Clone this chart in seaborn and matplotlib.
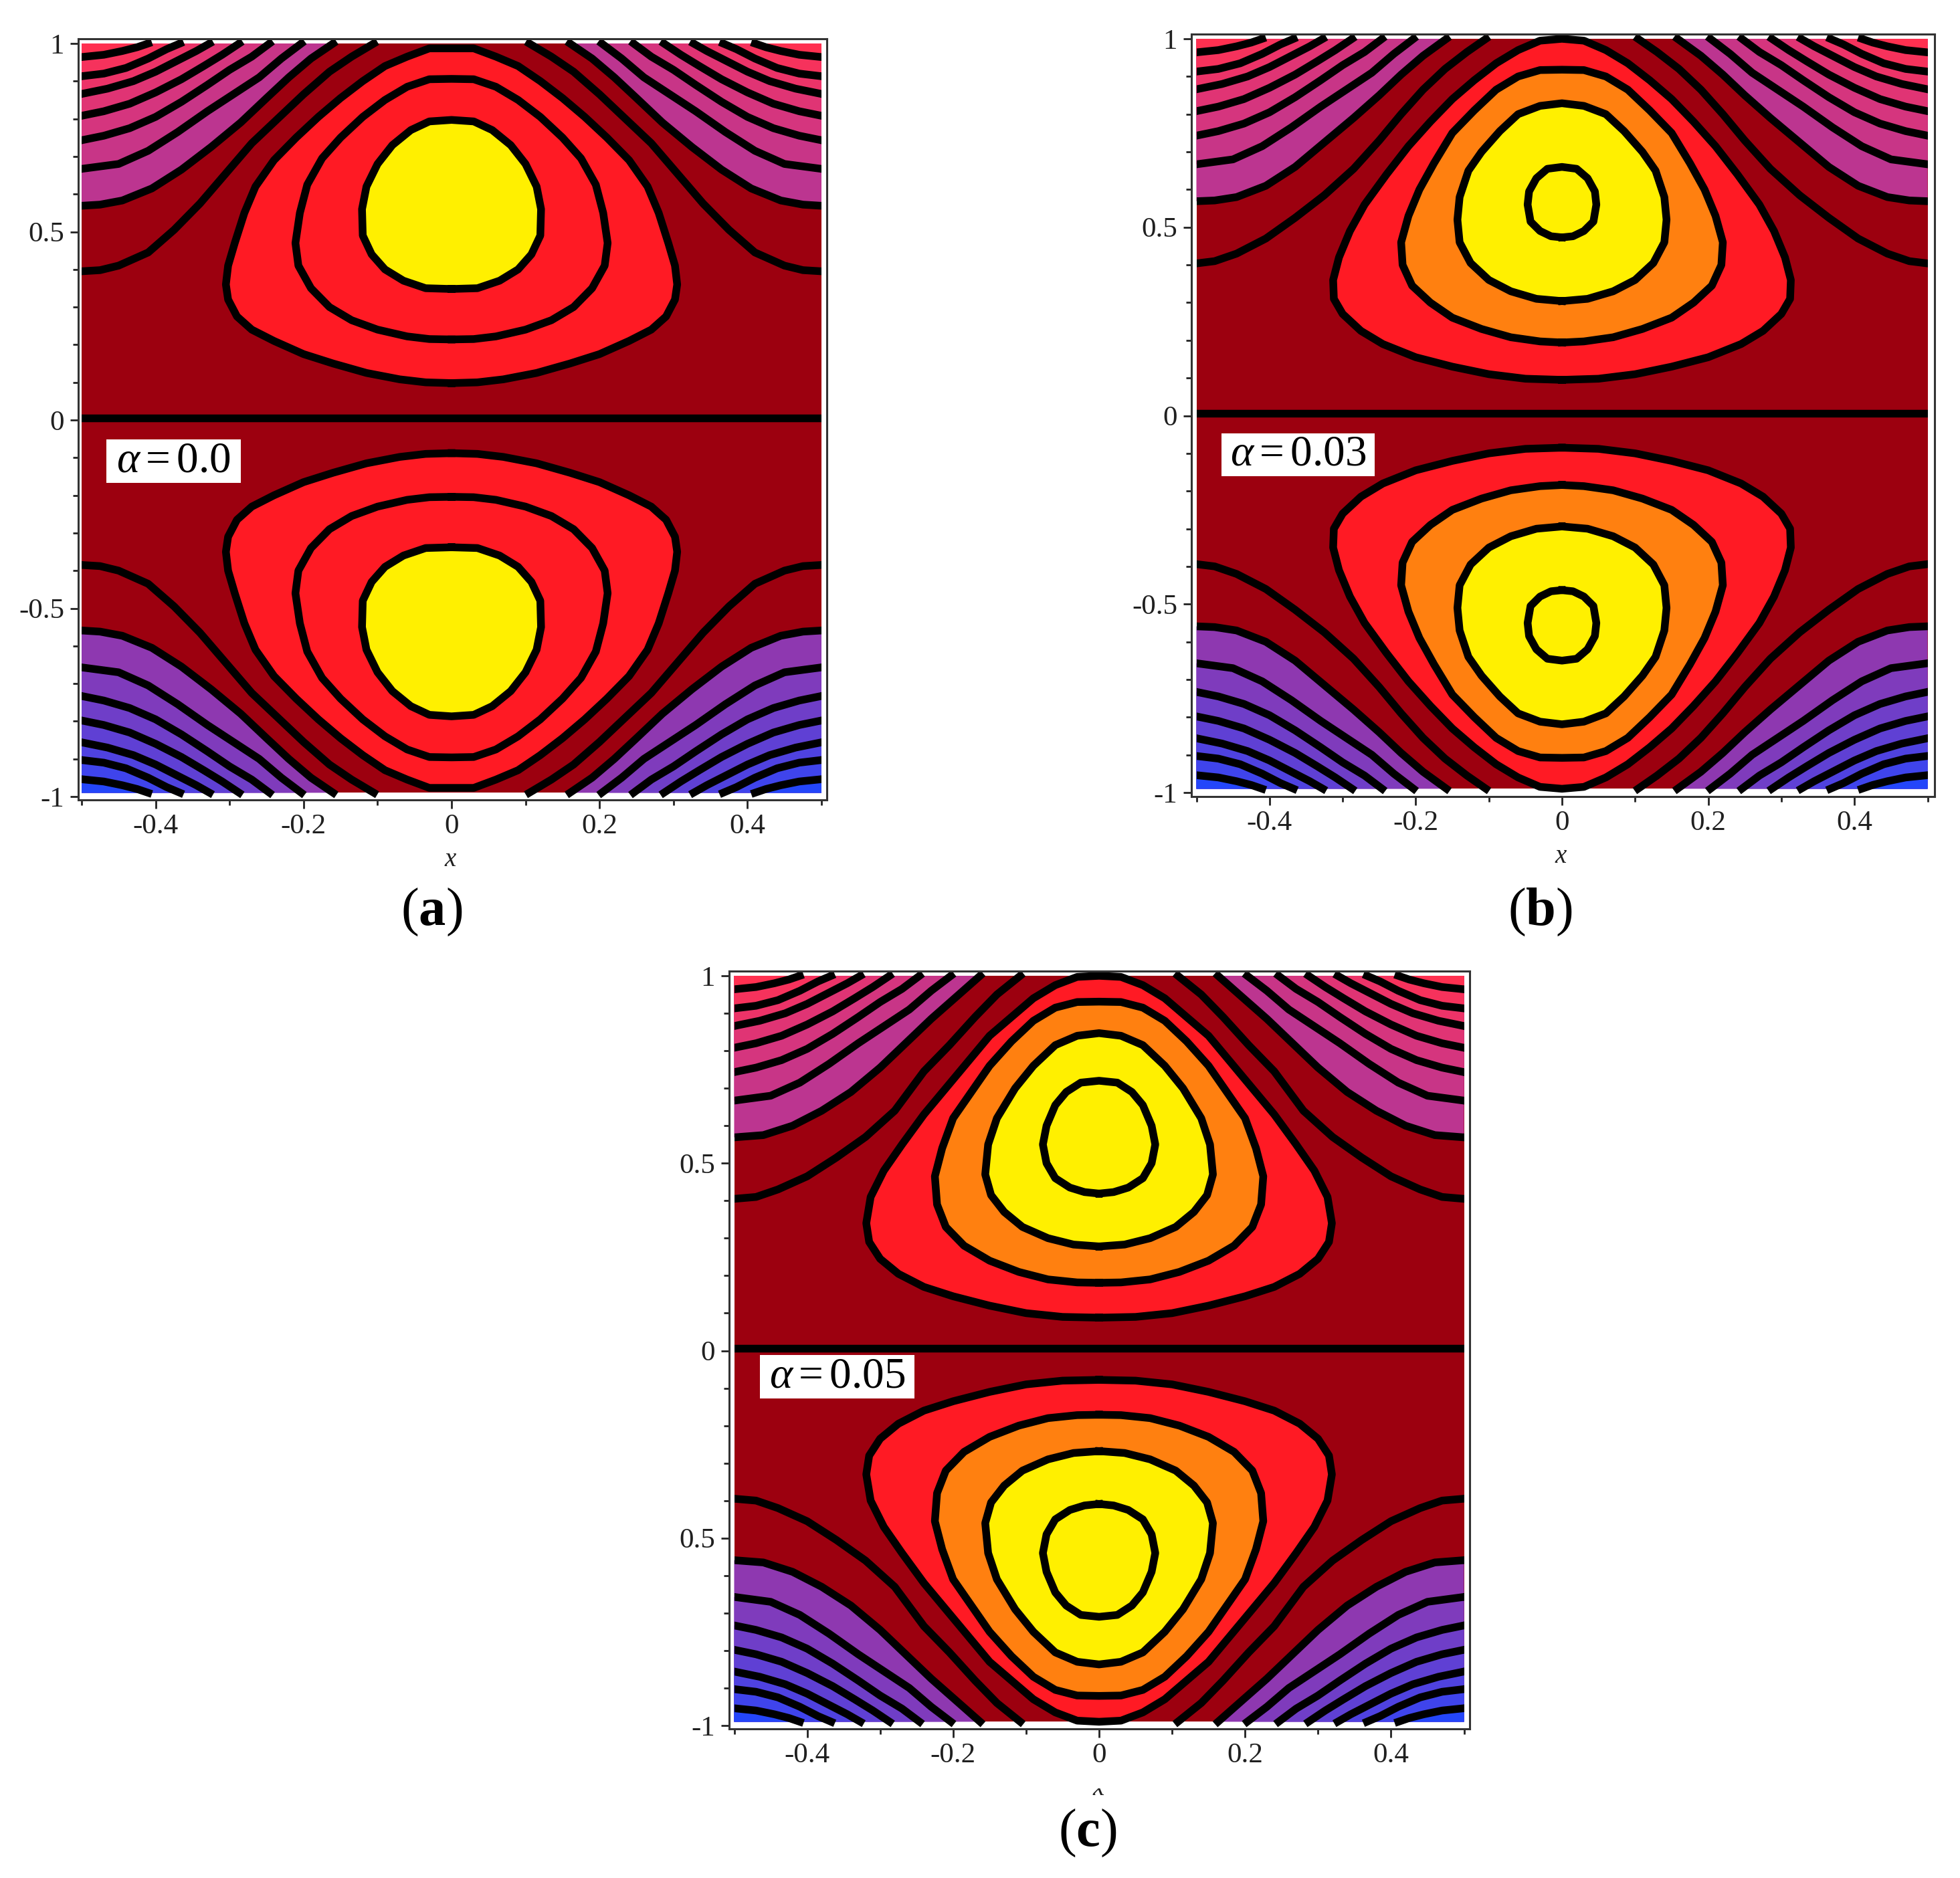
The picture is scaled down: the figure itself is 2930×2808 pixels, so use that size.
import matplotlib
matplotlib.use("Agg")
import matplotlib.pyplot as plt
import seaborn as sns
from matplotlib.patches import Rectangle
from matplotlib.transforms import Bbox

sns.set_theme(style="white")
plt.rcParams["font.family"] = ["Liberation Serif", "DejaVu Serif"]
plt.rcParams["axes.unicode_minus"] = False
plt.rcParams["mathtext.fontset"] = "custom"
plt.rcParams["mathtext.rm"] = "Liberation Serif"
plt.rcParams["mathtext.it"] = "Liberation Serif:italic"
plt.rcParams["mathtext.bf"] = "Liberation Serif:bold"

# ---- colours of the bands
DARK_RED = "#9C000F"
RED = "#FF1A24"
ORANGE = "#FF8010"
YELLOW = "#FFF000"
TOP_BANDS = ["#BC3590", "#C83587", "#D5357E", "#E03474", "#EC3368", "#F6325C", "#FF3050"]
BOTTOM_BANDS = ["#8E38B0", "#7F3BBC", "#6F3EC8", "#5F40D4", "#4F42E0", "#3F44EC", "#2446FA"]

# ---- tick values and labels
X_MAJOR = [-0.4, -0.2, 0, 0.2, 0.4]
X_LABELS = ["-0.4", "-0.2", "0", "0.2", "0.4"]
X_MINOR = [-0.5, -0.3, -0.1, 0.1, 0.3, 0.5]
Y_MAJOR = [-1, -0.5, 0, 0.5, 1]
Y_LABELS = ["-1", "-0.5", "0", "0.5", "1"]
Y_LABELS_C = ["-1", "0.5", "0", "0.5", "1"]
Y_MINOR = [-0.9, -0.8, -0.7, -0.6, -0.4, -0.3, -0.2, -0.1, 0.1, 0.2, 0.3, 0.4, 0.6, 0.7, 0.8, 0.9]

# ---- contours: right half (x>=0) of the upper half
# panel (a)
A_C1_X = [0, .03, .06, .09, .12, .15, .18, .21, .24, .265, .28, .293, .302, .305, .302, .29, .27, .24, .2, .16, .115, .07, .035, 0]
A_C1_Y = [.987, .987, .965, .94, .9, .855, .805, .75, .69, .62, .55, .47, .41, .36, .32, .275, .24, .21, .175, .15, .125, .108, .1, .098]
A_C2_X = [0, .03, .06, .09, .12, .15, .175, .195, .205, .211, .207, .19, .165, .135, .1, .06, .03, 0]
A_C2_Y = [.906, .905, .885, .85, .805, .75, .695, .625, .55, .47, .41, .35, .3, .265, .24, .222, .215, .214]
A_C3_X = [0, .03, .055, .08, .1, .115, .121, .12, .108, .09, .065, .035, 0]
A_C3_Y = [.797, .793, .77, .73, .68, .62, .56, .49, .44, .4, .37, .35, .348]
A_D1_X = [.105, .135, .165, .2, .235, .27, .305, .34, .375, .41, .45, .475, .5]
A_D1_Y = [1, .965, .925, .865, .8, .735, .655, .575, .505, .445, .41, .398, .395]
A_D2_X = [.16, .19, .22, .25, .285, .325, .365, .405, .445, .475, .5]
A_D2_Y = [1, .96, .91, .855, .79, .725, .665, .615, .583, .572, .569]

# panel (b)
B_C1_X = [0, .03, .06, .09, .12, .15, .18, .21, .24, .27, .29, .305, .313, .312, .3, .275, .245, .2, .15, .1, .05, 0]
B_C1_Y = [1.0, .995, .97, .935, .89, .84, .78, .715, .64, .56, .49, .42, .36, .31, .27, .225, .19, .155, .13, .11, .098, .095]
B_C2_X = [0, .03, .06, .09, .12, .15, .175, .195, .21, .22, .218, .205, .18, .15, .11, .07, .03, 0]
B_C2_Y = [.918, .917, .9, .865, .81, .75, .67, .6, .53, .46, .4, .345, .3, .26, .23, .208, .197, .194]
B_C3_X = [0, .03, .06, .085, .11, .128, .14, .143, .14, .125, .1, .07, .035, 0]
B_C3_Y = [.829, .822, .8, .755, .7, .65, .58, .52, .46, .405, .36, .33, .31, .304]
B_C4_X = [0, .02, .035, .045, .047, .043, .03, .015, 0]
B_C4_Y = [.66, .655, .63, .595, .56, .515, .49, .476, .473]
B_D1_X = [.104, .13, .16, .19, .22, .25, .285, .325, .365, .405, .445, .475, .5]
B_D1_Y = [1, .965, .92, .865, .8, .73, .655, .585, .525, .47, .43, .41, .404]
B_D2_X = [.158, .19, .22, .25, .285, .325, .365, .405, .445, .475, .5]
B_D2_Y = [1, .955, .905, .85, .79, .725, .66, .61, .58, .571, .569]

# panel (c)
C_C1_X = [0, .03, .06, .09, .12, .15, .18, .21, .24, .27, .295, .313, .319, .315, .3, .275, .24, .2, .15, .1, .05, 0]
C_C1_Y = [1.0, .997, .975, .94, .89, .84, .77, .7, .63, .55, .48, .41, .34, .29, .245, .205, .17, .145, .12, .1, .09, .088]
C_C2_X = [0, .03, .06, .09, .12, .15, .175, .2, .215, .225, .222, .21, .185, .15, .11, .07, .03, 0]
C_C2_Y = [.931, .93, .915, .88, .825, .76, .69, .62, .54, .465, .39, .33, .28, .24, .21, .19, .182, .181]
C_C3_X = [0, .03, .06, .09, .115, .14, .152, .156, .148, .13, .105, .07, .035, 0]
C_C3_Y = [.847, .84, .815, .76, .7, .62, .55, .47, .415, .37, .33, .3, .283, .278]
C_C4_X = [0, .025, .045, .06, .072, .077, .072, .06, .04, .02, 0]
C_C4_Y = [.72, .715, .69, .655, .6, .55, .5, .46, .435, .423, .419]
C_D1_X = [.108, .14, .17, .205, .24, .28, .32, .36, .4, .44, .47, .5]
C_D1_Y = [1, .95, .89, .815, .745, .64, .57, .515, .465, .43, .41, .405]
C_D2_X = [.163, .195, .23, .265, .3, .34, .38, .42, .46, .5]
C_D2_Y = [1, .945, .885, .82, .755, .69, .64, .6, .575, .569]

# outer contours, nearly the same in all three panels
D3_X = [.203, .23, .26, .295, .33, .37, .41, .45, .5]
D3_Y = [1, .96, .91, .865, .82, .765, .715, .68, .667]
D4_X = [.246, .27, .3, .33, .365, .4, .435, .47, .5]
D4_Y = [1, .965, .93, .89, .845, .805, .775, .755, .743]
D5_X = [.287, .31, .335, .365, .4, .435, .47, .5]
D5_Y = [1, .97, .94, .905, .87, .84, .82, .808]
D6_X = [.327, .345, .37, .4, .43, .465, .5]
D6_Y = [1, .98, .955, .925, .9, .88, .866]
D7_X = [.367, .385, .41, .44, .47, .5]
D7_Y = [1, .985, .96, .935, .92, .913]
D8_X = [.41, .425, .445, .47, .5]
D8_Y = [1, .99, .98, .97, .964]

MIDLINE_Y = [.006, .006]
MIDLINE_X = [-.5, .5]
FILL_TOP = 1.0
FILL_BOTTOM = -0.99

W, H = 2930, 2808
LW = 11.5 * 72 / 100
fig = plt.figure(figsize=(W / 100, H / 100), dpi=100, facecolor="white")


def fx(p):
    return p / W


def fy(p):
    return 1 - p / H


def mirror(y):
    return [FILL_TOP + FILL_BOTTOM - v for v in y]


def contour(ax, x, y, clip):
    sns.lineplot(x=x, y=y, ax=ax, color="black", lw=LW, sort=False, estimator=None,
                 legend=False, solid_capstyle="projecting", solid_joinstyle="round", zorder=5)
    ax.lines[-1].set_clip_path(clip)


def closed(x, y):
    return [-v for v in x[::-1]] + x[1:], y[::-1] + y[1:]


def panel(box, xpx, ypx, closed_curves, fills, open_curves, ylabels, note, note_box, tag, tag_xy, x_xy, x_clip=None):
    left, top, right, bottom = box
    ax = fig.add_axes([fx(left), fy(bottom), (right - left) / W, (bottom - top) / H])
    x_left, x_zero, x_right = xpx
    y_top, y_bot = ypx
    sx = (x_right - x_left)
    sy = (y_bot - y_top) / 2
    y_zero = (y_bot + y_top) / 2
    ax.set_xlim((left - x_zero) / sx, (right - x_zero) / sx)
    ax.set_ylim((y_zero - bottom) / sy, (y_zero - top) / sy)
    ax.set_facecolor("white")
    ax.fill([-.5, .5, .5, -.5], [FILL_BOTTOM, FILL_BOTTOM, FILL_TOP, FILL_TOP], color=DARK_RED, lw=0, zorder=1)
    clip = Rectangle((-.5, -1.2), 1, 2.4, transform=ax.transData)

    # bands in the corners
    for i in range(1, len(open_curves)):
        cx, cy = open_curves[i]
        for sgn in (1, -1):
            px = [sgn * v for v in cx] + [sgn * .5]
            ax.fill(px, cy + [FILL_TOP], color=TOP_BANDS[i - 1], lw=0, zorder=2)
            ax.fill(px, mirror(cy + [FILL_TOP]), color=BOTTOM_BANDS[i - 1], lw=0, zorder=2)
    # closed lobes
    for (cx, cy), col in zip(closed_curves, fills):
        px, py = closed(cx, cy)
        ax.fill(px, [min(v, FILL_TOP) for v in py], color=col, lw=0, zorder=3)
        ax.fill(px, [max(v, FILL_BOTTOM) for v in mirror(py)], color=col, lw=0, zorder=3)
    # contour lines
    for cx, cy in closed_curves:
        px, py = closed(cx, cy)
        contour(ax, px, py, clip)
        contour(ax, px, mirror(py), clip)
    for cx, cy in open_curves:
        for sgn in (1, -1):
            px = [sgn * v for v in cx]
            contour(ax, px, cy, clip)
            contour(ax, px, mirror(cy), clip)
    contour(ax, MIDLINE_X, MIDLINE_Y, clip)

    ax.set_xlabel("")
    ax.set_ylabel("")
    ax.set_xticks(X_MAJOR, X_LABELS)
    ax.set_yticks(Y_MAJOR, ylabels)
    ax.set_xticks(X_MINOR, minor=True)
    ax.set_yticks(Y_MINOR, minor=True)
    ax.tick_params(which="major", direction="out", length=9, width=2, color="#222222",
                   bottom=True, left=True, labelsize=31, labelcolor="#202020", pad=6)
    ax.tick_params(which="minor", direction="out", length=6, width=2, color="#222222", bottom=True, left=True)
    for s in ax.spines.values():
        s.set_visible(True)
        s.set_color("#333333")
        s.set_linewidth(2.2)
        s.set_zorder(6)

    # note box
    nl, nt, nr, nb = note_box
    fig.add_artist(Rectangle((fx(nl), fy(nb)), (nr - nl) / W, (nb - nt) / H, transform=fig.transFigure,
                             facecolor="white", edgecolor="none", zorder=8))
    fig.text(fx((nl + nr) / 2), fy((nt + nb) / 2), note, ha="center", va="center", fontsize=47,
             color="black", zorder=9)
    # panel tag
    fig.text(fx(tag_xy[0]), fy(tag_xy[1]), tag, ha="center", va="center", fontsize=58, color="black")
    # axis label
    t = fig.text(fx(x_xy[0]), fy(x_xy[1]), "x", ha="center", va="center", fontsize=28,
                 style="italic", color="#202020")
    if x_clip is not None:
        t.set_clip_box(Bbox([[0, 0], [W, H - x_clip]]))
        t.set_clip_on(True)


outer = [(D3_X, D3_Y), (D4_X, D4_Y), (D5_X, D5_Y), (D6_X, D6_Y), (D7_X, D7_Y), (D8_X, D8_Y)]

panel((117, 58, 1236, 1196), (122, 675, 1228), (65, 1191),
      [(A_C1_X, A_C1_Y), (A_C2_X, A_C2_Y), (A_C3_X, A_C3_Y)], [RED, RED, YELLOW],
      [(A_D1_X, A_D1_Y), (A_D2_X, A_D2_Y)] + outer, Y_LABELS,
      r"$\alpha=0.0$", (159, 657, 360, 722), r"$\mathrm{(}\mathbf{a}\mathrm{)}$", (645, 1364), (673, 1285))

panel((1781, 51, 2892, 1191), (1789, 2335, 2882), (58, 1185),
      [(B_C1_X, B_C1_Y), (B_C2_X, B_C2_Y), (B_C3_X, B_C3_Y), (B_C4_X, B_C4_Y)], [RED, ORANGE, YELLOW, YELLOW],
      [(B_D1_X, B_D1_Y), (B_D2_X, B_D2_Y)] + outer, Y_LABELS,
      r"$\alpha=0.03$", (1826, 648, 2055, 712), r"$\mathrm{(}\mathbf{b}\mathrm{)}$", (2302, 1364), (2333, 1281))

panel((1090, 1452, 2197, 2585), (1098, 1643, 2189), (1459, 2580),
      [(C_C1_X, C_C1_Y), (C_C2_X, C_C2_Y), (C_C3_X, C_C3_Y), (C_C4_X, C_C4_Y)], [RED, ORANGE, YELLOW, YELLOW],
      [(C_D1_X, C_D1_Y), (C_D2_X, C_D2_Y)] + outer, Y_LABELS_C,
      r"$\alpha=0.05$", (1136, 2026, 1367, 2091), r"$\mathrm{(}\mathbf{c}\mathrm{)}$", (1626, 2741), (1642, 2674), x_clip=2674)

fig.savefig("out.png", dpi=100, facecolor="white")
